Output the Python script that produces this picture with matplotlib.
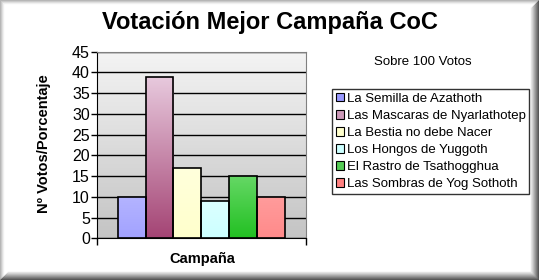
import matplotlib.pyplot as plt
import numpy as np
from matplotlib.colors import LinearSegmentedColormap
from matplotlib.patches import Rectangle

plt.rcParams["font.family"] = ["Liberation Sans", "DejaVu Sans"]

# data
campaigns = [
    "La Semilla de Azathoth",
    "Las Mascaras de Nyarlathotep",
    "La Bestia no debe Nacer",
    "Los Hongos de Yuggoth",
    "El Rastro de Tsathogghua",
    "Las Sombras de Yog Sothoth",
]
votes = [10, 39, 17, 9, 15, 10]
y_ticks = [0, 5, 10, 15, 20, 25, 30, 35, 40, 45]

# styles: gradient top/bottom per bar, and legend swatch colour
bar_top = ["#b4b4ff", "#e8cade", "#ffffdc", "#dcffff", "#66d866", "#ff9c9c"]
bar_bottom = ["#a2a2ff", "#a44474", "#ffffcc", "#ccffff", "#22c022", "#ff8a8a"]
swatch = ["#9999ff", "#cc99b8", "#ffffcc", "#ccffff", "#55cc55", "#ff8080"]

W, H = 539, 280
fig = plt.figure(figsize=(W / 100, H / 100), dpi=100)
fig.patch.set_facecolor("white")

# beveled outer frame
frame = fig.add_axes([0, 0, 1, 1], zorder=-5)
frame.set_xlim(0, W)
frame.set_ylim(H, 0)
frame.axis("off")
for i in range(4):
    g = 0.70 + 0.08 * i
    frame.add_patch(Rectangle((i, i), W - 2 * i, H - 2 * i, fill=False,
                              edgecolor=(g, g, g), linewidth=1))
for i in range(9):
    g = 0.25 + 0.08 * i
    frame.add_line(plt.Line2D([W - 0.5 - i, W - 0.5 - i], [i, H - i], color=(g, g, g), lw=1))
    frame.add_line(plt.Line2D([i, W - i], [H - 0.5 - i, H - 0.5 - i], color=(g, g, g), lw=1))

ax = fig.add_axes([96.7 / W, 1 - 238.3 / H, 209.3 / W, 186.6 / H])

# gradient plot-area background
bg = LinearSegmentedColormap.from_list("bg", ["#c4c4c4", "#f4f4f4"])
grad = np.linspace(0, 1, 256).reshape(-1, 1)
ax.imshow(grad, cmap=bg, origin="lower", extent=(0, 1, 0, 1),
          transform=ax.transAxes, aspect="auto", zorder=0)

ax.set_axisbelow(True)
ax.yaxis.grid(True, color="black", linewidth=1, zorder=1)

x = np.arange(len(votes))
bars = ax.bar(x, votes, width=1.0, color="none", edgecolor="black",
              linewidth=1.2, zorder=3)
for b, top, bot, v in zip(bars, bar_top, bar_bottom, votes):
    cmap = LinearSegmentedColormap.from_list("c", [bot, top])
    im = ax.imshow(grad, cmap=cmap, origin="lower",
                   extent=(b.get_x(), b.get_x() + b.get_width(), 0, v),
                   aspect="auto", zorder=2)
    im.set_clip_path(b)

ax.set_xlim(-1.25, 6.25)
ax.set_ylim(0, 45)
ax.set_yticks(y_ticks)
ax.set_xticks([-1.25, 6.25])
ax.set_xticklabels([])
ax.tick_params(axis="y", direction="out", length=4, width=1, labelsize=11.5, pad=1)
ax.tick_params(axis="x", direction="out", length=5, width=1)
for s in ["top", "right"]:
    ax.spines[s].set_color("#808080")
for s in ["left", "bottom"]:
    ax.spines[s].set_color("black")

fig.text(0.5, 1 - 22 / H, "Votación Mejor Campaña CoC", ha="center", va="center",
         fontsize=17, fontweight="bold")
fig.text(44 / W, 1 - 144 / H, "Nº Votos/Porcentaje", rotation=90, ha="center",
         va="center", fontsize=10.5, fontweight="bold")
fig.text(202 / W, 1 - 259 / H, "Campaña", ha="center", va="center",
         fontsize=10.5, fontweight="bold")
fig.text(423 / W, 1 - 62 / H, "Sobre 100 Votos", ha="center", va="center", fontsize=9.5)

handles = [Rectangle((0, 0), 1, 1, facecolor=c, edgecolor="black", linewidth=0.8)
           for c in swatch]
leg = fig.legend(handles, campaigns, loc="upper left",
                 bbox_to_anchor=(332 / W, 1 - 89 / H), fontsize=9.5,
                 frameon=True, fancybox=False, borderpad=0.3,
                 labelspacing=0.38, handlelength=0.6, handleheight=0.6,
                 handletextpad=0.2, borderaxespad=0)
leg.get_frame().set_edgecolor("black")
leg.get_frame().set_linewidth(1)

fig.savefig("out.png", dpi=100)
